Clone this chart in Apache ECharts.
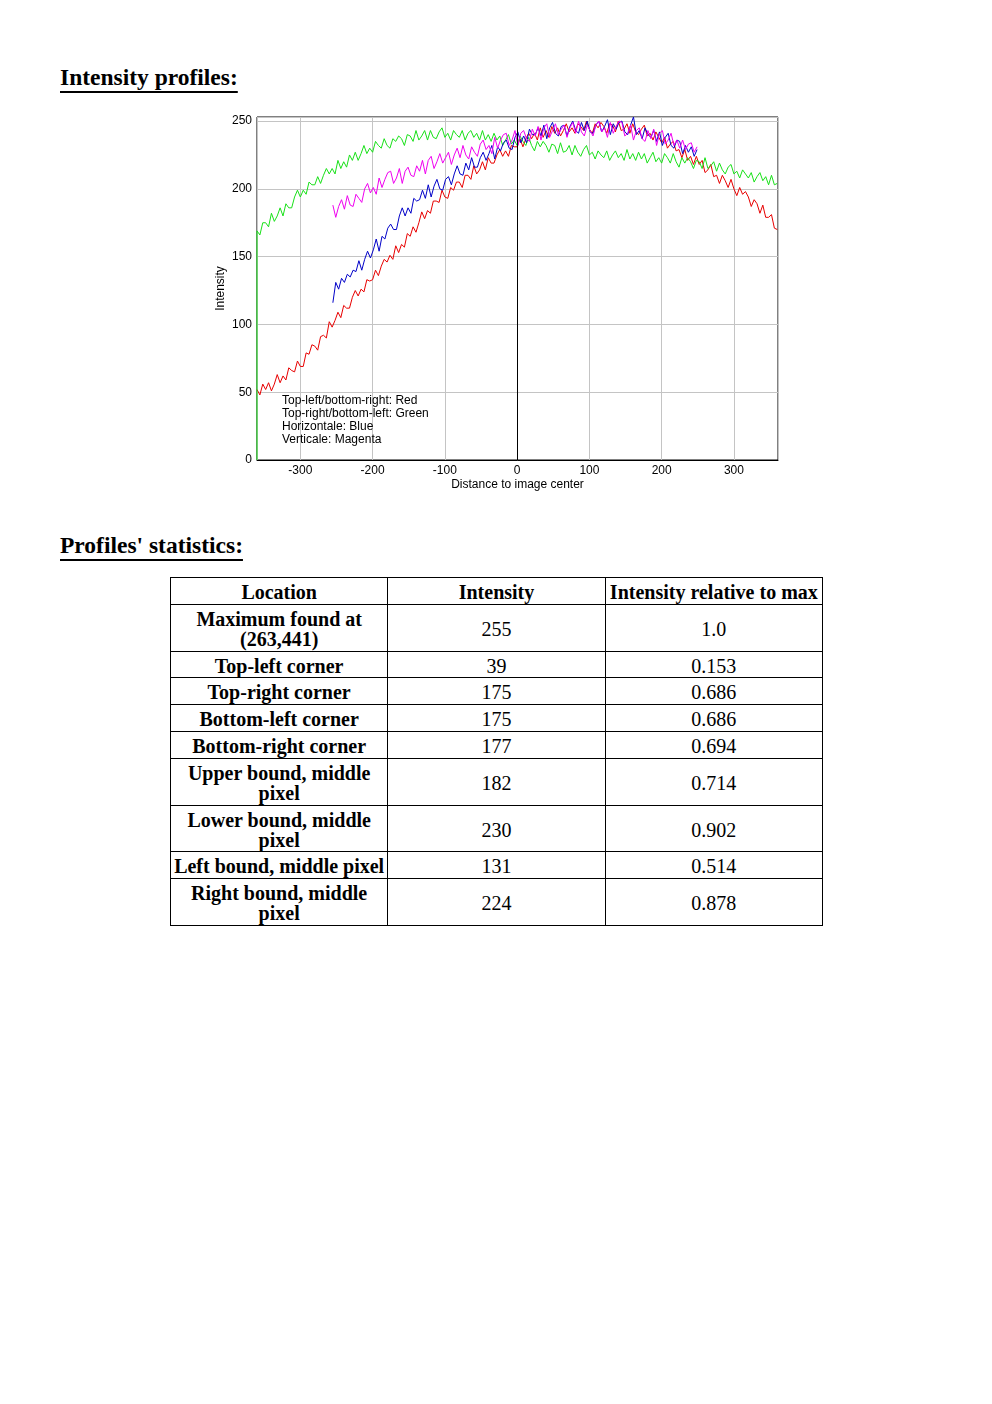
<!DOCTYPE html>
<html>
<head>
<meta charset="utf-8">
<script src="https://cdn.jsdelivr.net/npm/echarts@6/dist/echarts.min.js"></script>
<style>
  html, body { margin: 0; padding: 0; background: #fff; width: 992px; height: 1404px; position: relative; }
  .h { position: absolute; left: 60px; margin: 0; font-family: "Liberation Serif", "Times New Roman", serif; font-weight: bold; font-size: 23.5px; color: #000; text-decoration: underline; text-decoration-thickness: 2px; text-underline-offset: 6px; }
  #chart { position: absolute; left: 0; top: 100px; width: 992px; height: 400px; }
  table { position: absolute; left: 170px; top: 577px; width: 653px; border-collapse: collapse; font-family: "Liberation Serif", "Times New Roman", serif; font-size: 20px; color: #000; }
  td, th { border: 1px solid #000; text-align: center; vertical-align: middle; padding: 4px 1px 1.8px 1px; line-height: 20px; }
  td:first-child, th { font-weight: bold; }
  col.c { width: 217px; }
</style>
</head>
<body>
<div class="h" style="top:64px;">Intensity profiles:</div>
<div id="chart"></div>
<div class="h" style="top:532px;">Profiles' statistics:</div>
<table id="tbl">
  <colgroup><col class="c"><col class="c"><col class="c"></colgroup>
  <thead><tr id="hdr"></tr></thead>
  <tbody id="tb"></tbody>
</table>
<script>
// ---------- chart data (sampled every 4 units along each profile) ----------
const diagStartX = -360, profStartX = -255, stepX = 4;
const greenEdgeValue = 0;
const redValues = [
  52,48,56,52,57,51,56,63,57,62,
  59,68,66,65,73,69,69,79,78,85,
  84,81,91,92,90,102,98,103,109,105,
  114,112,112,120,125,121,126,124,133,132,
  133,140,136,143,148,146,151,148,158,153,
  159,157,167,165,172,168,175,183,178,184,
  182,191,191,190,199,194,193,201,199,205,
  205,201,210,210,207,217,211,214,220,214,
  223,219,219,225,229,224,228,224,232,231,
  231,237,231,237,241,237,241,236,245,238,
  243,238,246,241,245,239,243,248,242,245,
  241,248,246,243,250,244,241,248,245,249,
  246,241,248,247,242,250,243,244,248,241,
  248,242,240,244,247,239,241,236,242,238,
  234,238,230,233,235,228,229,223,229,221,
  224,218,224,218,221,212,214,218,209,210,
  204,210,206,201,207,200,195,201,196,198,
  194,187,192,189,182,188,179,179,181,171,
  170
];
const greenValues = [
  169,166,175,175,172,182,176,180,186,180,
  189,186,186,194,199,194,199,196,205,203,
  203,209,204,210,215,211,215,211,221,215,
  220,216,225,221,227,221,226,232,226,230,
  227,235,232,230,237,232,230,237,235,239,
  237,232,240,239,235,243,236,239,243,236,
  243,238,237,242,245,238,241,236,243,240,
  238,243,236,241,243,238,241,236,243,236,
  240,235,241,236,239,232,236,240,233,236,
  232,239,235,232,238,232,228,235,231,235,
  232,227,233,232,226,234,227,228,232,225,
  232,227,224,229,232,225,227,222,228,225,
  223,228,221,225,228,223,226,221,229,222,
  226,221,227,222,226,219,223,227,220,223,
  219,226,223,219,226,220,216,223,219,223,
  220,215,221,220,215,223,215,217,220,213,
  219,214,211,216,218,211,213,208,214,211,
  208,212,205,209,212,206,209,203,210,203,
  204
];
const blueValues = [
  116,131,126,134,131,137,135,140,139,147,
  140,148,154,149,155,163,154,165,163,171,
  174,170,170,180,186,180,186,182,193,191,
  192,199,193,203,194,202,207,200,199,207,
  209,203,211,217,211,210,219,214,223,216,
  216,223,227,221,226,232,222,231,228,234,
  236,230,229,238,242,234,239,234,244,240,
  240,245,239,247,237,245,249,241,239,246,
  247,239,246,250,243,241,249,243,250,242,
  241,247,250,242,246,251,240,248,244,249,
  250,242,240,247,253,240,243,237,245,240,
  238,243,235,242,232,238,241,232,230,236,
  235,226,232,227,231,224,229
];
const magentaValues = [
  188,179,187,192,185,195,188,187,196,193,
  190,200,204,197,201,196,208,201,207,212,
  213,204,208,215,204,213,216,210,209,217,
  213,221,211,221,224,215,220,226,219,223,
  227,218,225,230,223,232,225,222,231,227,
  224,233,236,229,232,226,238,230,236,240,
  241,232,236,243,232,241,243,237,235,244,
  239,246,236,245,248,238,243,248,240,244,
  247,238,245,249,241,250,242,239,247,243,
  239,247,250,242,245,238,249,241,246,250,
  249,239,241,247,236,243,245,237,235,243,
  237,244,232,241,243,233,236,241,232,236,
  230,236,229,233,234,227,231
];
const legendLines = [
  'Top-left/bottom-right: Red',
  'Top-right/bottom-left: Green',
  'Horizontale: Blue',
  'Verticale: Magenta'
];
const xAxisTitle = 'Distance to image center';
const yAxisTitle = 'Intensity';

// ---------- table data ----------
const tableHeaders = ['Location', 'Intensity', 'Intensity relative to max'];
const tableLocations = ['Maximum found at (263,441)', 'Top-left corner', 'Top-right corner', 'Bottom-left corner', 'Bottom-right corner', 'Upper bound, middle pixel', 'Lower bound, middle pixel', 'Left bound, middle pixel', 'Right bound, middle pixel'];
const tableIntensity = ['255', '39', '175', '175', '177', '182', '230', '131', '224'];
const tableRelative = ['1.0', '0.153', '0.686', '0.686', '0.694', '0.714', '0.902', '0.514', '0.878'];

// build table
const hdr = document.getElementById('hdr');
tableHeaders.forEach(h => { const th = document.createElement('th'); th.textContent = h; hdr.appendChild(th); });
const tb = document.getElementById('tb');
tableLocations.forEach((loc, i) => {
  const tr = document.createElement('tr');
  [loc, tableIntensity[i], tableRelative[i]].forEach(t => { const td = document.createElement('td'); td.textContent = t; tr.appendChild(td); });
  tb.appendChild(tr);
});

// build chart
function pairs(startX, vals) { return vals.map((v, i) => [startX + i * stepX, v]); }
const redData = pairs(diagStartX, redValues);
const greenData = [[diagStartX, greenEdgeValue]].concat(pairs(diagStartX, greenValues));
const blueData = pairs(profStartX, blueValues);
const magentaData = pairs(profStartX, magentaValues);

const labelFont = { color: '#000', fontSize: 12, fontFamily: 'Liberation Sans, Arial, sans-serif' };
function lineSeries(name, data, color, extra) {
  return Object.assign({ name, type: 'line', data, showSymbol: false, symbol: 'none', sampling: null,
    lineStyle: { color, width: 1 }, itemStyle: { color }, animation: false, silent: true, clip: true }, extra || {});
}
const chart = echarts.init(document.getElementById('chart'), null, { renderer: 'canvas' });
chart.setOption({
  animation: false,
  backgroundColor: '#fff',
  grid: { left: 257, top: 17, width: 521, height: 343, show: true, borderColor: '#000', borderWidth: 1, backgroundColor: 'transparent' },
  xAxis: {
    type: 'value', min: diagStartX, max: 361,
    name: xAxisTitle, nameLocation: 'middle', nameGap: 19, nameMoveOverlap: false, nameTextStyle: labelFont,
    axisLine: { show: true, lineStyle: { color: '#000' } },
    axisTick: { show: false },
    axisLabel: Object.assign({ margin: 5, showMinLabel: false, showMaxLabel: false }, labelFont),
    splitLine: { show: true, lineStyle: { color: '#c4c4c4', width: 1 } }
  },
  yAxis: {
    type: 'value', min: 0, max: 253, interval: 50,
    name: yAxisTitle, nameLocation: 'middle', nameGap: 30, nameMoveOverlap: false, nameRotate: 90, nameTextStyle: labelFont,
    axisLine: { show: true, lineStyle: { color: '#000' } },
    axisTick: { show: false },
    axisLabel: Object.assign({ margin: 5, showMaxLabel: false }, labelFont),
    splitLine: { show: true, lineStyle: { color: '#c4c4c4', width: 1 } }
  },
  graphic: [{
    type: 'text', left: 282, top: 294, silent: true, z: 100,
    style: { text: legendLines.join('\n'), font: '12px "Liberation Sans", Arial, sans-serif', lineHeight: 13, fill: '#000' }
  }],
  series: [
    lineSeries('Red', redData, '#e80000', {
      markLine: { silent: true, symbol: 'none', label: { show: false }, animation: false,
        lineStyle: { color: '#000', width: 1, type: 'solid' }, data: [{ xAxis: 0 }] }
    }),
    lineSeries('Green', greenData, '#18e018'),
    lineSeries('Blue', blueData, '#0000c8'),
    lineSeries('Magenta', magentaData, '#f000f0')
  ]
});
</script>
</body>
</html>
